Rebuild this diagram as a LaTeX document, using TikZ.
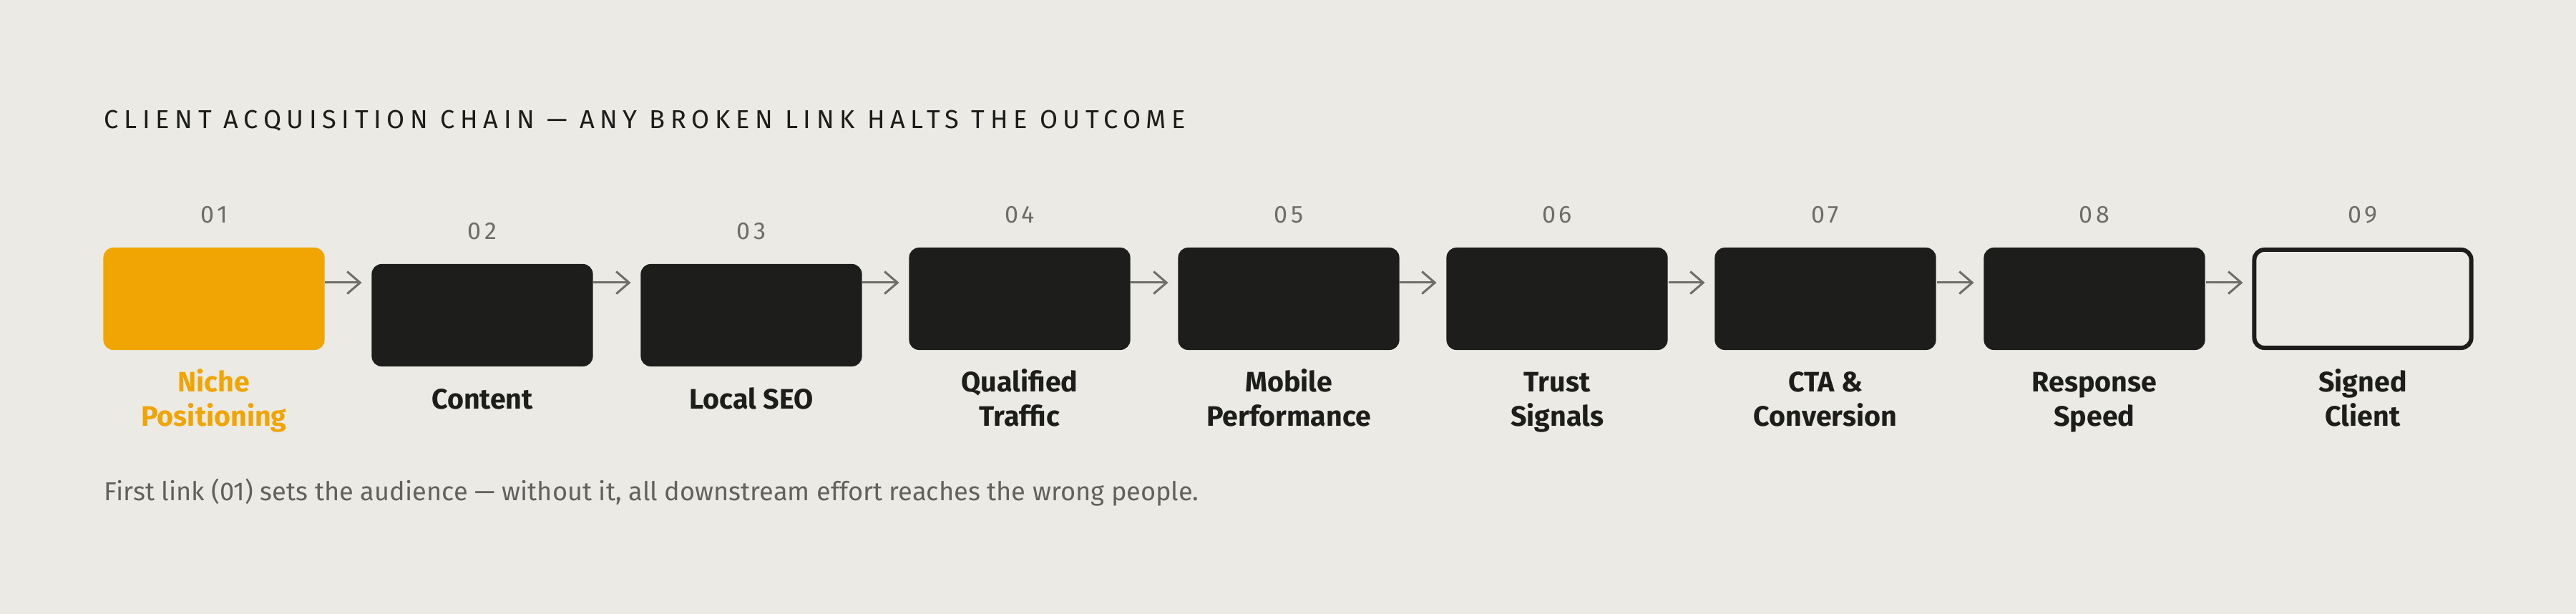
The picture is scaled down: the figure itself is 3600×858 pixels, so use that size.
\documentclass[tikz,border=0pt]{standalone}
\usepackage{fontspec}
\setmainfont{Fira Sans}
\usepackage{tikz}
\usetikzlibrary{arrows,arrows.meta,positioning}
\definecolor{paper}{HTML}{EBEAE5}
\definecolor{amber}{HTML}{F0A504}
\definecolor{ink}{HTML}{1D1D1B}
\definecolor{steel}{HTML}{6E6D68}
\definecolor{note}{HTML}{62615D}
\tikzset{every picture/.style={line width=0.5pt}}
\tikzstyle{link}=[rectangle,rounded corners=0.14cm,minimum width=3.09cm,minimum height=1.43cm,fill=ink,inner sep=0pt]
\tikzstyle{first}=[link,fill=amber]
\tikzstyle{goal}=[link,fill=paper,draw=ink,line width=0.06cm,minimum width=3.03cm,minimum height=1.37cm]
\tikzstyle{num}=[text=steel,font=\fontsize{9.7}{11}\selectfont\addfontfeatures{LetterSpace=14}]
\tikzstyle{lab}=[text=ink,align=center,inner sep=0pt,font=\fontsize{11.2}{13.5}\selectfont\bfseries]

\begin{document}
\begin{tikzpicture}[x=0.01cm,y=-0.01cm]
\fill[paper] (0,0) rectangle (3600,858);
\useasboundingbox (0,0) rectangle (3600,858);
\node[anchor=base west,inner sep=0pt,text=ink,font=\fontsize{10.3}{12}\selectfont\addfontfeatures{LetterSpace=21}] (T) at (145,180) {CLIENT ACQUISITION CHAIN — ANY BROKEN LINK HALTS THE OUTCOME};
\coordinate (lane) at (0,395);
% the links
\node[first] (A) at (299,417.5) {};
\node[link] (B) at (674,440.5) {};
\node[link] (C) at (1050,440.5) {};
\node[link] (D) at (1425,417.5) {};
\node[link] (E) at (1801,417.5) {};
\node[link] (F) at (2176,417.5) {};
\node[link] (G) at (2551,417.5) {};
\node[link] (H) at (2927,417.5) {};
\node[goal] (I) at (3302,417.5) {};
% step numbers
\node[num] (a) at (299,300) {01};
\node[num] (b) at (674,323) {02};
\node[num] (c) at (1050,323) {03};
\node[num] (d) at (1425,300) {04};
\node[num] (e) at (1801,300) {05};
\node[num] (f) at (2176,300) {06};
\node[num] (g) at (2551,300) {07};
\node[num] (h) at (2927,300) {08};
\node[num] (i) at (3302,300) {09};
% names
\node[lab,text=amber] (LA) at (299,562) {\strut Niche\\Positioning\strut};
\node[lab] (LB) at (674,562) {\strut Content\strut};
\node[lab] (LC) at (1050,562) {\strut Local SEO\strut};
\node[lab] (LD) at (1425,562) {\strut Qualified\\Traffic\strut};
\node[lab] (LE) at (1801,562) {\strut Mobile\\Performance\strut};
\node[lab] (LF) at (2176,562) {\strut Trust\\Signals\strut};
\node[lab] (LG) at (2551,562) {\strut CTA \&\\Conversion\strut};
\node[lab] (LH) at (2927,562) {\strut Response\\Speed\strut};
\node[lab] (LI) at (3302,562) {\strut Signed\\Client\strut};
\path[->,color=steel,line width=0.03cm,>={Straight Barb[length=0.18cm,width=0.31cm]},shorten >=0.13cm]
(A.east |- lane) edge (B.west |- lane)
(B.east |- lane) edge (C.west |- lane)
(C.east |- lane) edge (D.west |- lane)
(D.east |- lane) edge (E.west |- lane)
(E.east |- lane) edge (F.west |- lane)
(F.east |- lane) edge (G.west |- lane)
(G.east |- lane) edge (H.west |- lane)
(H.east |- lane) edge (I.west |- lane);
\node[anchor=base west,inner sep=0pt,text=note,font=\fontsize{10.3}{12}\selectfont] (N) at (145,699) {First link (01) sets the audience — without it, all downstream effort reaches the wrong people.};
\end{tikzpicture}
\end{document}
